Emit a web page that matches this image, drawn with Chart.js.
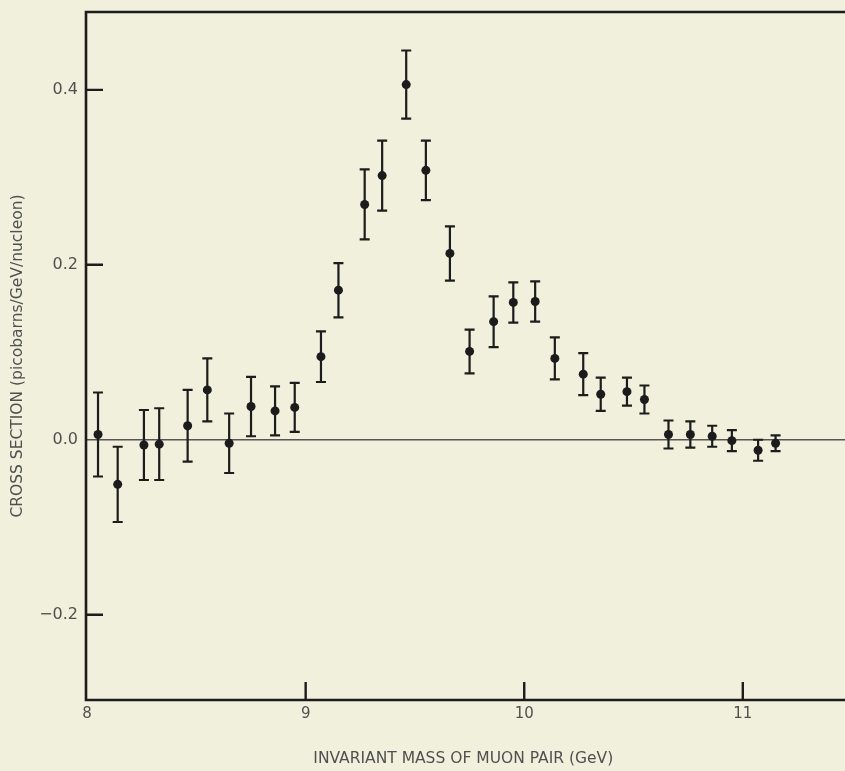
<!DOCTYPE html>
<html>
<head>
<meta charset="utf-8">
<script src="https://cdn.jsdelivr.net/npm/chart.js@4/dist/chart.umd.min.js"></script>
<style>
  html, body { margin: 0; padding: 0; background: #f0f0dc; overflow: hidden; }
  #wrap { width: 845px; height: 771px; }
</style>
</head>
<body>
<div id="wrap"><canvas id="c" width="845" height="771"></canvas></div>
<script>
// Invariant mass (GeV) of each bin
const massGeV = [8.05, 8.14, 8.26, 8.33, 8.46, 8.55, 8.65, 8.75, 8.86, 8.95,
                 9.07, 9.15, 9.27, 9.35, 9.46, 9.55, 9.66, 9.75, 9.86, 9.95,
                 10.05, 10.14, 10.27, 10.35, 10.47, 10.55, 10.66, 10.76, 10.86, 10.95,
                 11.07, 11.15];
// Cross section (picobarns/GeV/nucleon)
const crossSection = [0.006, -0.051, -0.006, -0.005, 0.016, 0.057, -0.004, 0.038, 0.033, 0.037,
                      0.095, 0.171, 0.269, 0.302, 0.406, 0.308, 0.213, 0.101, 0.135, 0.157,
                      0.158, 0.093, 0.075, 0.052, 0.055, 0.046, 0.006, 0.006, 0.004, -0.001,
                      -0.012, -0.004];
// Symmetric error (half-length of bar)
const errorHalf = [0.048, 0.043, 0.040, 0.041, 0.041, 0.036, 0.034, 0.034, 0.028, 0.028,
                   0.029, 0.031, 0.040, 0.040, 0.039, 0.034, 0.031, 0.025, 0.029, 0.023,
                   0.023, 0.024, 0.024, 0.019, 0.016, 0.016, 0.016, 0.015, 0.012, 0.012,
                   0.012, 0.009];
const xTickValues = [8, 9, 10, 11];
const yTickValues = [-0.2, 0.0, 0.2, 0.4];

const INK = '#1c1c1c';
const LABEL = '#505050';
const BG = '#f0f0dc';
const FONT = 'DejaVu Sans, Liberation Sans, sans-serif';

const points = massGeV.map((x, i) => ({ x: x, y: crossSection[i] }));

const bgPlugin = {
  id: 'bg',
  beforeDraw(chart) {
    const ctx = chart.ctx;
    ctx.save();
    ctx.fillStyle = BG;
    ctx.fillRect(0, 0, chart.width, chart.height);
    ctx.restore();
  }
};

const errorBarPlugin = {
  id: 'errorBars',
  afterDatasetsDraw(chart) {
    const ctx = chart.ctx;
    const xs = chart.scales.x, ys = chart.scales.y;
    ctx.save();
    ctx.strokeStyle = INK;
    ctx.lineWidth = 2.2;
    const cap = 5;
    massGeV.forEach((m, i) => {
      const px = xs.getPixelForValue(m);
      const top = ys.getPixelForValue(crossSection[i] + errorHalf[i]);
      const bot = ys.getPixelForValue(crossSection[i] - errorHalf[i]);
      ctx.beginPath();
      ctx.moveTo(px, top); ctx.lineTo(px, bot);
      ctx.moveTo(px - cap, top); ctx.lineTo(px + cap, top);
      ctx.moveTo(px - cap, bot); ctx.lineTo(px + cap, bot);
      ctx.stroke();
    });
    ctx.restore();
  }
};

const framePlugin = {
  id: 'frame',
  beforeDatasetsDraw(chart) {
    // zero reference line, continued to the page edge like the original
    const ctx = chart.ctx;
    const a = chart.chartArea;
    const py = chart.scales.y.getPixelForValue(0);
    ctx.save();
    ctx.strokeStyle = '#555';
    ctx.lineWidth = 1.4;
    ctx.beginPath();
    ctx.moveTo(a.left, py);
    ctx.lineTo(chart.width, py);
    ctx.stroke();
    ctx.restore();
  },
  afterDraw(chart) {
    const ctx = chart.ctx;
    const a = chart.chartArea;
    const xs = chart.scales.x, ys = chart.scales.y;
    ctx.save();
    ctx.strokeStyle = INK;
    ctx.lineWidth = 2.6;
    ctx.beginPath();
    ctx.moveTo(chart.width + 2, a.top);
    ctx.lineTo(a.left, a.top);
    ctx.lineTo(a.left, a.bottom);
    ctx.lineTo(chart.width + 2, a.bottom);
    ctx.stroke();
    // inward ticks
    ctx.lineWidth = 2.4;
    ctx.beginPath();
    yTickValues.forEach(v => {
      if (v === 0) return;
      const py = ys.getPixelForValue(v);
      ctx.moveTo(a.left, py); ctx.lineTo(a.left + 17, py);
    });
    xTickValues.forEach(v => {
      const px = xs.getPixelForValue(v);
      if (Math.abs(px - a.left) < 2) return;
      ctx.moveTo(px, a.bottom); ctx.lineTo(px, a.bottom - 18);
    });
    ctx.stroke();
    ctx.restore();
  }
};

new Chart(document.getElementById('c'), {
  type: 'scatter',
  data: {
    datasets: [{
      data: points,
      backgroundColor: INK,
      borderColor: INK,
      pointRadius: 4.5,
      pointHoverRadius: 4.5,
      borderWidth: 0
    }]
  },
  options: {
    responsive: false,
    animation: false,
    events: [],
    layout: { padding: { top: 12, right: 0, left: 0, bottom: 0 } },
    plugins: {
      legend: { display: false },
      tooltip: { enabled: false }
    },
    scales: {
      x: {
        type: 'linear',
        min: 7.995,
        max: 11.447,
        afterBuildTicks(scale) { scale.ticks = xTickValues.map(v => ({ value: v })); },
        afterFit(scale) { scale.height = 71; scale.paddingLeft = 0; scale.paddingRight = 0; },
        grid: { display: false, drawTicks: false },
        border: { display: false },
        ticks: {
          color: LABEL,
          padding: 5,
          font: { family: FONT, size: 15 },
          callback: v => String(v),
          maxRotation: 0
        },
        title: {
          display: true,
          text: 'INVARIANT MASS OF MUON PAIR (GeV)',
          color: LABEL,
          font: { family: FONT, size: 15.5 },
          padding: { top: 0, bottom: 3 }
        }
      },
      y: {
        type: 'linear',
        min: -0.2975,
        max: 0.489,
        afterBuildTicks(scale) { scale.ticks = yTickValues.map(v => ({ value: v })); },
        afterFit(scale) { scale.width = 86; scale.paddingTop = 0; scale.paddingBottom = 0; },
        grid: { display: false, drawTicks: false },
        border: { display: false },
        ticks: {
          color: LABEL,
          padding: 8,
          font: { family: FONT, size: 16 },
          callback: v => v === 0 ? '0.0' : (v < 0 ? '\u2212' + Math.abs(v).toFixed(1) : v.toFixed(1))
        },
        title: {
          display: true,
          text: 'CROSS SECTION (picobarns/GeV/nucleon)',
          color: LABEL,
          font: { family: FONT, size: 15.5 },
          padding: { top: 9, bottom: 0 }
        }
      }
    }
  },
  plugins: [bgPlugin, errorBarPlugin, framePlugin]
});
</script>
</body>
</html>
